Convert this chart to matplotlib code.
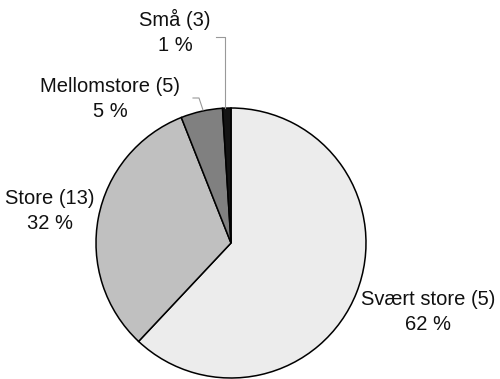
import matplotlib
matplotlib.use("Agg")
import matplotlib.pyplot as plt

plt.rcParams['font.family'] = ['Liberation Sans', 'DejaVu Sans']

names = ["Svært store", "Store", "Mellomstore", "Små"]
counts = [5, 13, 5, 3]
shares = [62, 32, 5, 1]
colors = ["#ececec", "#c0c0c0", "#808080", "#141414"]

W, H = 500, 379
cx, cy, r = 231, 243, 135

fig = plt.figure(figsize=(W / 100, H / 100), dpi=100)
ax = fig.add_axes([(cx - r) / W, (H - cy - r) / H, 2 * r / W, 2 * r / H])
ax.pie(shares, colors=colors, startangle=90, counterclock=False,
       wedgeprops=dict(edgecolor="black", linewidth=1.1), radius=1)
ax.set_xlim(-1, 1)
ax.set_ylim(-1, 1)
ax.set_aspect("equal")
ax.axis("off")

# label positions in pixels (centre of two-line block)
label_pos = [(428, 312), (50, 211), (110, 99), (175, 32)]
for name, n, s, (px, py) in zip(names, counts, shares, label_pos):
    fig.text(px / W, 1 - py / H, f"{name} ({n})\n{s} %", ha="center", va="center",
             fontsize=14.5, linespacing=1.45, color="#111111")

# leader lines for the small slices
def pix(x, y):
    return x / W, 1 - y / H

leaders = [
    [(216, 37), (225, 37), (225, 108)],
    [(193, 98), (199, 98), (203, 110)],
]
for pts in leaders:
    xs, ys = zip(*[pix(x, y) for x, y in pts])
    fig.add_artist(plt.Line2D(xs, ys, color="#999999", linewidth=0.8))

fig.savefig("out.png", dpi=100, facecolor="white")
